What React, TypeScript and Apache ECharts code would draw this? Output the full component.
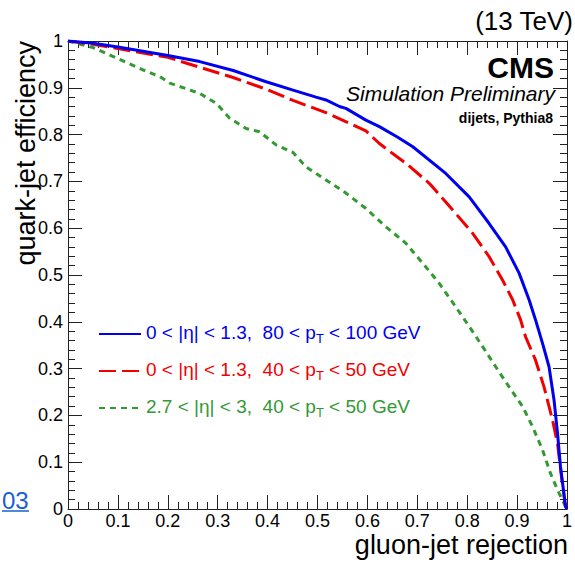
import React, { useEffect, useRef } from "react";
import * as echarts from "echarts";

// ---- data ----
const blueCurve: [number, number][] = [
  [0, 1.0], [0.05, 0.995], [0.1, 0.987], [0.2, 0.969], [0.264, 0.956],
  [0.331, 0.937], [0.397, 0.913], [0.451, 0.895], [0.497, 0.88], [0.517, 0.874],
  [0.544, 0.86], [0.557, 0.856], [0.597, 0.831], [0.624, 0.817], [0.66, 0.795],
  [0.691, 0.774], [0.757, 0.717], [0.804, 0.667], [0.844, 0.61], [0.877, 0.56],
  [0.904, 0.504], [0.924, 0.447], [0.937, 0.404], [0.951, 0.354], [0.964, 0.304],
  [0.974, 0.233], [0.981, 0.162], [0.987, 0.09], [0.992, 0.048], [0.997, 0.005],
  [1.0, 0.0],
];
const redCurve: [number, number][] = [
  [0, 1.0], [0.05, 0.993], [0.1, 0.984], [0.2, 0.965], [0.264, 0.944],
  [0.331, 0.922], [0.397, 0.897], [0.451, 0.873], [0.517, 0.847], [0.597, 0.808],
  [0.624, 0.781], [0.66, 0.752], [0.677, 0.739], [0.724, 0.696], [0.771, 0.639],
  [0.811, 0.589], [0.844, 0.539], [0.871, 0.489], [0.891, 0.447], [0.907, 0.404],
  [0.917, 0.368], [0.937, 0.318], [0.954, 0.261], [0.971, 0.19], [0.981, 0.14],
  [0.989, 0.069], [0.996, 0.013], [1.0, 0.0],
];
const greenCurve: [number, number][] = [
  [0, 1.0], [0.05, 0.986], [0.084, 0.97], [0.151, 0.938], [0.184, 0.924],
  [0.204, 0.91], [0.264, 0.888], [0.297, 0.867], [0.324, 0.835], [0.357, 0.813],
  [0.384, 0.806], [0.417, 0.778], [0.451, 0.762], [0.477, 0.731], [0.517, 0.703],
  [0.557, 0.675], [0.597, 0.642], [0.637, 0.603], [0.677, 0.568], [0.711, 0.525],
  [0.744, 0.482], [0.777, 0.432], [0.804, 0.39], [0.831, 0.347], [0.857, 0.304],
  [0.884, 0.261], [0.911, 0.219], [0.931, 0.176], [0.951, 0.126], [0.967, 0.076],
  [0.981, 0.041], [0.994, 0.012], [1.0, 0.0],
];

const seriesNames = [
  "0 < |η| < 1.3,  80 < pT < 100 GeV",
  "0 < |η| < 1.3,  40 < pT < 50 GeV",
  "2.7 < |η| < 3,  40 < pT < 50 GeV",
];
// label parts: before subscript, subscript, after subscript
const legendParts: [string, string, string][] = [
  ["0 < |η| < 1.3,  80 < p", "T", " < 100 GeV"],
  ["0 < |η| < 1.3,  40 < p", "T", " < 50 GeV"],
  ["2.7 < |η| < 3,  40 < p", "T", " < 50 GeV"],
];
const seriesColors = ["#0000f0", "#f20000", "#339933"];
const richKeys = ["b", "r", "g"];

const xTitle = "gluon-jet rejection";
const yTitle = "quark-jet efficiency";

const FONT = '"Liberation Sans", Arial, Helvetica, sans-serif';

const fmtTick = (v: number) => {
  const r = Math.round(v * 10) / 10;
  if (r === 0) return "0";
  if (r === 1) return "1";
  return r.toFixed(1);
};

export default function App() {
  const ref = useRef<HTMLDivElement>(null);
  useEffect(() => {
    if (!ref.current) return;
    const chart = echarts.init(ref.current, null, { renderer: "svg" });

    const axisCommon = {
      type: "value" as const,
      min: 0,
      max: 1,
      interval: 0.1,
      axisLine: { show: true, onZero: false, lineStyle: { color: "#222", width: 1 } },
      axisTick: { show: true, inside: true, length: 14, lineStyle: { color: "#222", width: 1 } },
      minorTick: { show: true, splitNumber: 5, length: 7, lineStyle: { color: "#222", width: 1 } },
      splitLine: { show: false },
      minorSplitLine: { show: false },
    };

    const rich: Record<string, any> = {};
    richKeys.forEach((k, i) => {
      rich[k] = {
        color: seriesColors[i],
        fontSize: 19,
        fontFamily: FONT,
        lineHeight: 22,
        verticalAlign: "top",
      };
      rich[k + "s"] = {
        color: seriesColors[i],
        fontSize: 13,
        fontFamily: FONT,
        lineHeight: 12,
        verticalAlign: "bottom",
        padding: [16, 0, 0, 0],
      };
    });

    const dashes: any[] = ["solid", [17, 6], [6, 5]];
    const curves = [blueCurve, redCurve, greenCurve];

    chart.setOption({
      animation: false,
      backgroundColor: "#ffffff",
      grid: { left: 68, top: 41, width: 500, height: 468, containLabel: false },
      xAxis: [
        {
          ...axisCommon,
          position: "bottom",
          axisLabel: {
            show: true,
            margin: 3,
            fontSize: 18,
            color: "#000",
            fontFamily: FONT,
            formatter: fmtTick,
          },
        },
        { ...axisCommon, position: "top", axisLabel: { show: false } },
      ],
      yAxis: [
        {
          ...axisCommon,
          position: "left",
          axisLabel: {
            show: true,
            margin: 5,
            fontSize: 18,
            color: "#000",
            fontFamily: FONT,
            formatter: fmtTick,
          },
        },
        { ...axisCommon, position: "right", axisLabel: { show: false } },
      ],
      legend: {
        orient: "vertical",
        left: 98,
        top: 316,
        padding: 0,
        itemGap: 8,
        itemWidth: 42,
        itemHeight: 14,
        selectedMode: false,
        itemStyle: { opacity: 0 },
        data: seriesNames.map((n) => ({ name: n })),
        textStyle: { rich },
        formatter: (name: string) => {
          const i = seriesNames.indexOf(name);
          const [a, s, b] = legendParts[i];
          const k = richKeys[i];
          return `{${k}|${a}}{${k}s|${s}}{${k}|${b}}`;
        },
      },
      series: curves.map((c, i) => ({
        type: "line",
        name: seriesNames[i],
        xAxisIndex: 0,
        yAxisIndex: 0,
        data: c,
        showSymbol: false,
        symbol: "none",
        smooth: false,
        color: seriesColors[i],
        lineStyle: { color: seriesColors[i], width: 3, type: dashes[i] },
        z: 3 - i,
      })),
      graphic: [
        {
          type: "text",
          x: 568,
          y: 545,
          style: {
            text: xTitle,
            font: `27px ${FONT}`,
            fill: "#000",
            align: "right",
            verticalAlign: "middle",
            textAlign: "right",
            textVerticalAlign: "middle",
          },
        },
        {
          type: "text",
          x: 26,
          y: 41,
          rotation: Math.PI / 2,
          style: {
            text: yTitle,
            font: `27px ${FONT}`,
            fill: "#000",
            align: "right",
            verticalAlign: "middle",
            textAlign: "right",
            textVerticalAlign: "middle",
          },
        },
        {
          type: "text",
          x: 573,
          y: 21,
          style: {
            text: "(13 TeV)",
            font: `26px ${FONT}`,
            fill: "#000",
            align: "right",
            verticalAlign: "middle",
            textAlign: "right",
            textVerticalAlign: "middle",
          },
        },
        {
          type: "text",
          x: 554,
          y: 67,
          style: {
            text: "CMS",
            font: `bold 30px ${FONT}`,
            fill: "#000",
            align: "right",
            verticalAlign: "middle",
            textAlign: "right",
            textVerticalAlign: "middle",
          },
        },
        {
          type: "text",
          x: 555,
          y: 93,
          style: {
            text: "Simulation Preliminary",
            font: `italic 21px ${FONT}`,
            fill: "#000",
            align: "right",
            verticalAlign: "middle",
            textAlign: "right",
            textVerticalAlign: "middle",
          },
        },
        {
          type: "text",
          x: 553,
          y: 118,
          style: {
            text: "dijets, Pythia8",
            font: `bold 14px ${FONT}`,
            fill: "#000",
            align: "right",
            verticalAlign: "middle",
            textAlign: "right",
            textVerticalAlign: "middle",
          },
        },
        {
          type: "text",
          x: 2,
          y: 500,
          style: {
            text: "03",
            font: `24px ${FONT}`,
            fill: "#1a5fd0",
            align: "left",
            verticalAlign: "middle",
            textAlign: "left",
            textVerticalAlign: "middle",
          },
        },
        {
          type: "line",
          shape: { x1: 2, y1: 511, x2: 29, y2: 511 },
          style: { stroke: "#1a5fd0", lineWidth: 1.5 },
        },
      ],
    });
    return () => chart.dispose();
  }, []);
  return (
    <div
      ref={ref}
      style={{ position: "absolute", left: 0, top: 0, width: 575, height: 563 }}
    />
  );
}
